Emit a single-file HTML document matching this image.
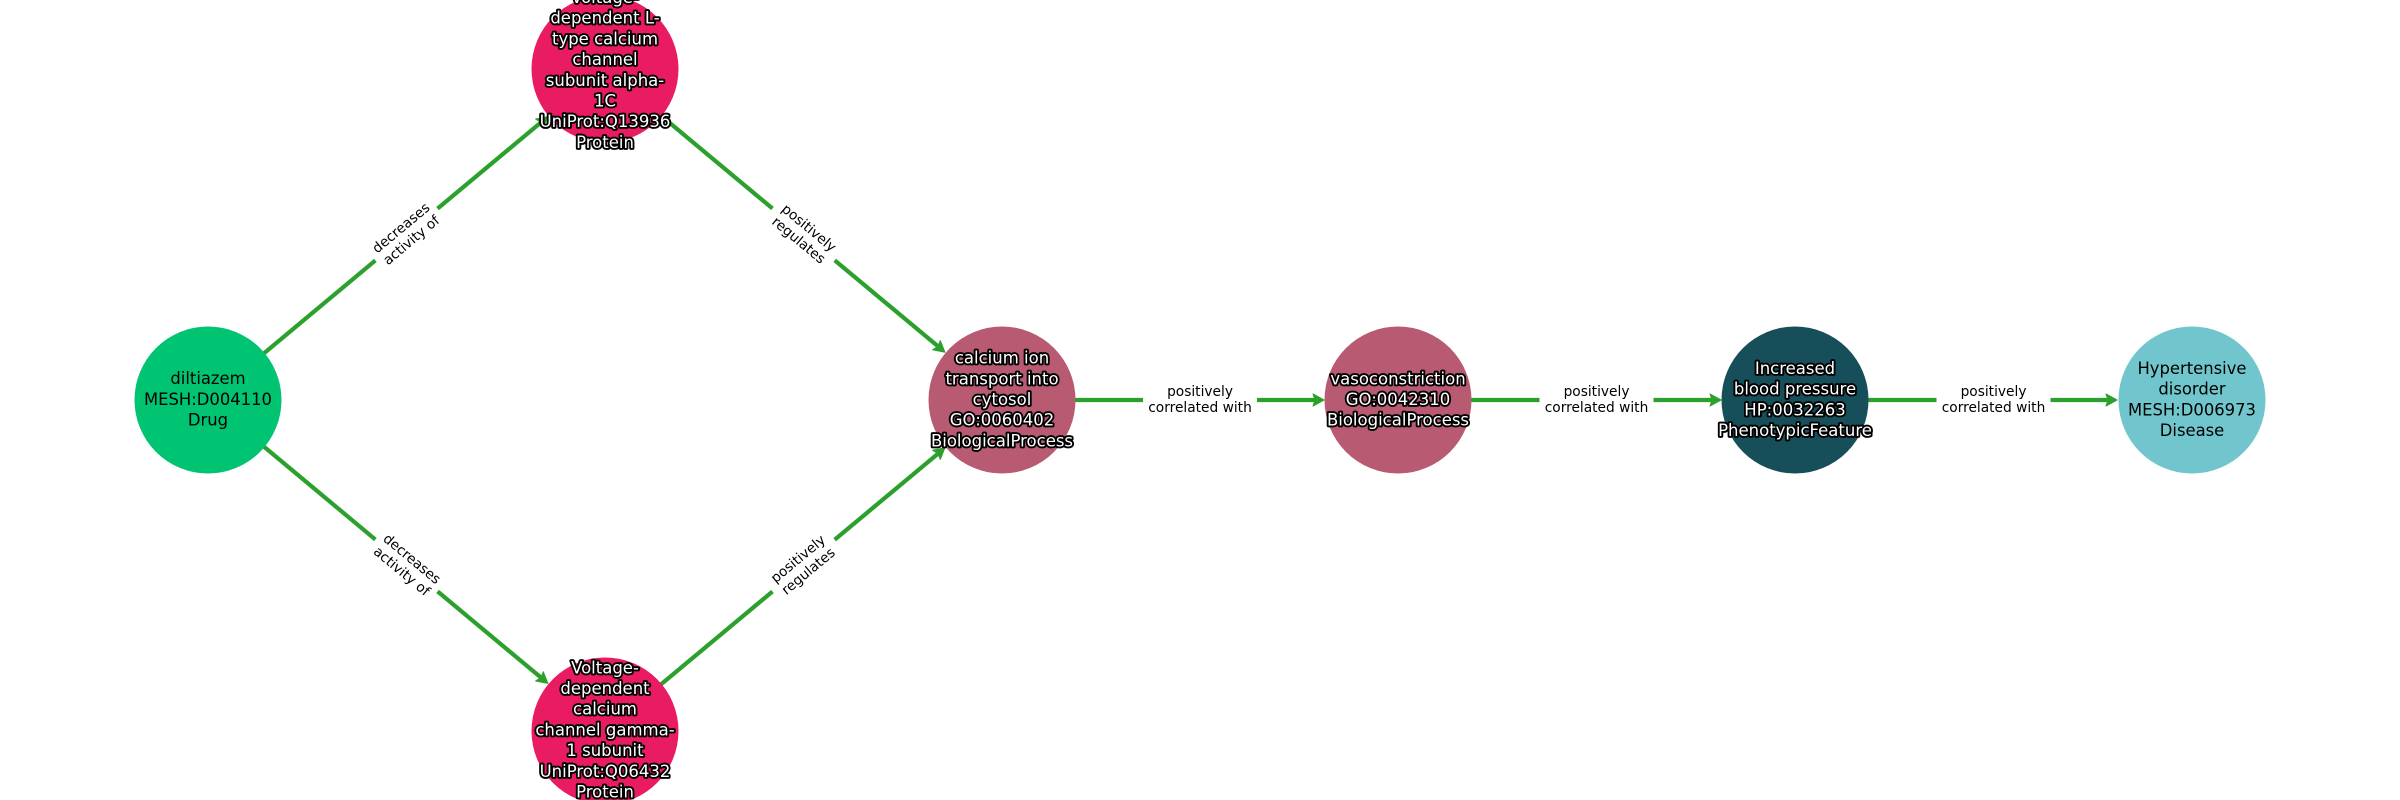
<!DOCTYPE html>
<html><head><meta charset="utf-8"><style>
html,body{margin:0;padding:0;background:#fff}
svg{display:block}
text{font-family:"DejaVu Sans",sans-serif;text-anchor:middle}
.n{font-size:16.4px;fill:#000}
.o{font-size:16.5px;fill:#fff;stroke:#000;stroke-width:3.8px;paint-order:stroke;stroke-linejoin:round}
.e{font-size:13.75px;fill:#000}
.l{stroke:#2ca02c;stroke-width:4.2;fill:none}
.h{fill:#2ca02c;stroke:#2ca02c;stroke-width:1;stroke-linejoin:round}
</style></head><body>
<svg width="2400" height="800" viewBox="0 0 2400 800" xmlns="http://www.w3.org/2000/svg">
<rect width="2400" height="800" fill="#fff"/>
<path class="l" d="M208 400L541.8 121.7"/>
<path class="l" d="M208 400L541.8 678.3"/>
<path class="l" d="M605 69L938.8 347"/>
<path class="l" d="M605 731L938.8 453"/>
<path class="l" d="M1002 400H1316"/>
<path class="l" d="M1398 400H1713"/>
<path class="l" d="M1795 400H2109"/>
<path class="h" d="M0 0L-11 -6L-9 0L-11 6Z" transform="translate(547.9 116.6) rotate(-39.8)"/>
<path class="h" d="M0 0L-11 -6L-9 0L-11 6Z" transform="translate(547.9 683.4) rotate(39.8)"/>
<path class="h" d="M0 0L-11 -6L-9 0L-11 6Z" transform="translate(944.9 352.2) rotate(39.8)"/>
<path class="h" d="M0 0L-11 -6L-9 0L-11 6Z" transform="translate(944.9 447.8) rotate(-39.8)"/>
<path class="h" d="M0 0L-11 -6L-9 0L-11 6Z" transform="translate(1324 400)"/>
<path class="h" d="M0 0L-11 -6L-9 0L-11 6Z" transform="translate(1721 400)"/>
<path class="h" d="M0 0L-11 -6L-9 0L-11 6Z" transform="translate(2117 400)"/>

<circle cx="208" cy="400" r="73.5" fill="#00c472"/>
<circle cx="605" cy="69" r="73.5" fill="#e91b63"/>
<circle cx="605" cy="731" r="73.5" fill="#e91b63"/>
<circle cx="1002" cy="400" r="73.5" fill="#b85b72"/>
<circle cx="1398" cy="400" r="73.5" fill="#b85b72"/>
<circle cx="1795" cy="400" r="73.5" fill="#164f5a"/>
<circle cx="2192" cy="400" r="73.5" fill="#70c6cc"/>

<g transform="translate(406.5 234.5) rotate(-39.8)"><rect x="-40.5" y="-20" width="81" height="40" fill="#fff"/><text class="e" y="-4">decreases</text><text class="e" y="12">activity of</text></g>
<g transform="translate(406.5 565.5) rotate(39.8)"><rect x="-40.5" y="-20" width="81" height="40" fill="#fff"/><text class="e" y="-4">decreases</text><text class="e" y="12">activity of</text></g>
<g transform="translate(803.5 234.5) rotate(39.8)"><rect x="-40.5" y="-20" width="81" height="40" fill="#fff"/><text class="e" y="-4">positively</text><text class="e" y="12">regulates</text></g>
<g transform="translate(803.5 565.5) rotate(-39.8)"><rect x="-40.5" y="-20" width="81" height="40" fill="#fff"/><text class="e" y="-4">positively</text><text class="e" y="12">regulates</text></g>
<g transform="translate(1200 400)"><rect x="-57" y="-20" width="114" height="40" fill="#fff"/><text class="e" y="-4">positively</text><text class="e" y="12">correlated with</text></g>
<g transform="translate(1596.5 400)"><rect x="-57" y="-20" width="114" height="40" fill="#fff"/><text class="e" y="-4">positively</text><text class="e" y="12">correlated with</text></g>
<g transform="translate(1993.5 400)"><rect x="-57" y="-20" width="114" height="40" fill="#fff"/><text class="e" y="-4">positively</text><text class="e" y="12">correlated with</text></g>

<g class="n"><text x="208" y="384">diltiazem</text><text x="208" y="405">MESH:D004110</text><text x="208" y="425.7">Drug</text></g>
<g class="o">
<text x="605" y="3">Voltage-</text><text x="605" y="23.7">dependent L-</text><text x="605" y="44.4">type calcium</text><text x="605" y="65.1">channel</text><text x="605" y="85.8">subunit alpha-</text><text x="605" y="106.5">1C</text><text x="605" y="127.2">UniProt:Q13936</text><text x="605" y="147.9">Protein</text>
<text x="605" y="673.3">Voltage-</text><text x="605" y="694">dependent</text><text x="605" y="714.7">calcium</text><text x="605" y="735.4">channel gamma-</text><text x="605" y="756.1">1 subunit</text><text x="605" y="776.8">UniProt:Q06432</text><text x="605" y="797.5">Protein</text>
<text x="1002" y="363.6">calcium ion</text><text x="1002" y="384.3">transport into</text><text x="1002" y="405">cytosol</text><text x="1002" y="425.7">GO:0060402</text><text x="1002" y="446.4">BiologicalProcess</text>
<text x="1398" y="384.3">vasoconstriction</text><text x="1398" y="405">GO:0042310</text><text x="1398" y="425.7">BiologicalProcess</text>
<text x="1795" y="373.9">Increased</text><text x="1795" y="394.6">blood pressure</text><text x="1795" y="415.3">HP:0032263</text><text x="1795" y="436">PhenotypicFeature</text>
</g>
<g class="n"><text x="2192" y="373.9">Hypertensive</text><text x="2192" y="394.6">disorder</text><text x="2192" y="415.3">MESH:D006973</text><text x="2192" y="436">Disease</text></g>
</svg>
</body></html>
